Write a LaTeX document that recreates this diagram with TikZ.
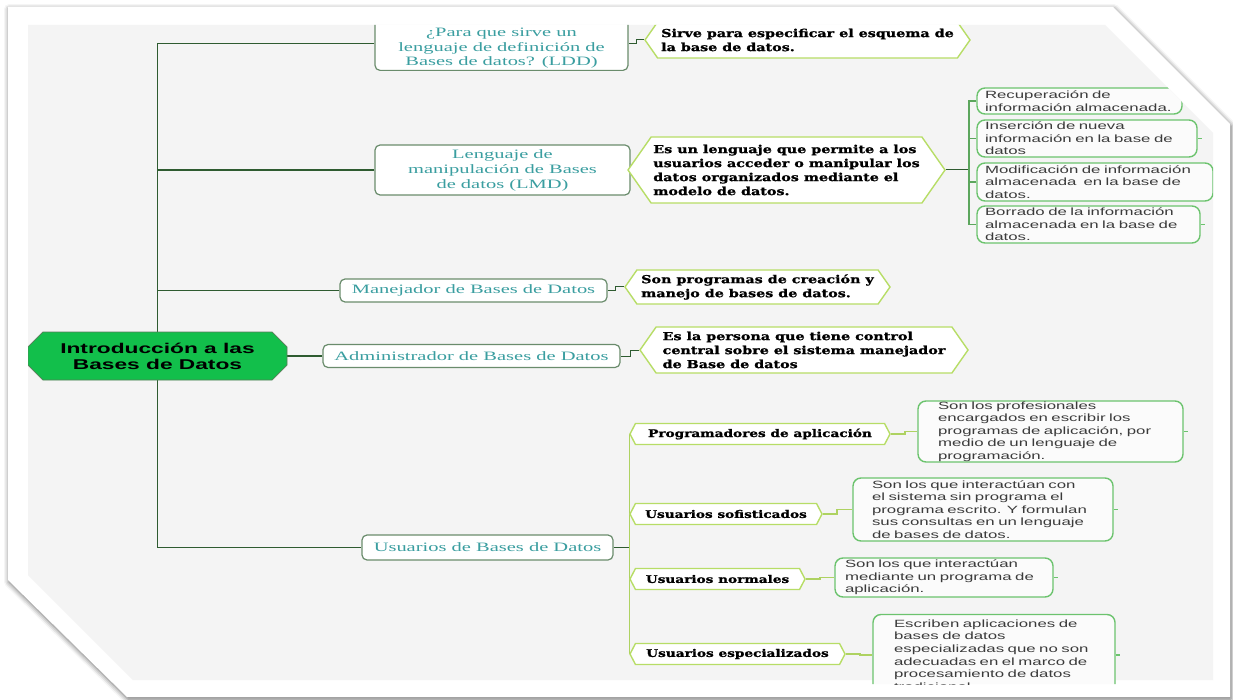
\documentclass[tikz,border=0pt]{standalone}
\usepackage{fontspec}
\usetikzlibrary{shapes.misc,shapes.symbols,shadows.blur,backgrounds}
\newfontfamily\rootfont[FakeStretch=1.6]{Liberation Sans}
\newfontfamily\topicfont[FakeStretch=1.6]{Liberation Serif}
\newfontfamily\notefont[FakeStretch=1.3,BoldFeatures={FakeBold=1.2}]{DejaVu Serif}
\newfontfamily\leaffont[FakeStretch=1.6]{Liberation Sans}
\definecolor{trunk}{HTML}{2E5B30}
\definecolor{rootfill}{HTML}{12BF4B}
\definecolor{topictext}{HTML}{3A9EA0}
\definecolor{topicborder}{HTML}{6A8C6C}
\definecolor{lime}{HTML}{B7DD66}
\definecolor{leafgreen}{HTML}{6CC36E}
\definecolor{leaftext}{HTML}{3B3B3B}
\definecolor{panel}{HTML}{F4F4F4}
\begin{document}
\begin{tikzpicture}[x=1pt,y=-1pt,
  root/.style={chamfered rectangle, chamfered rectangle xsep=12pt, draw=trunk!80, fill=rootfill,
    line width=0.8pt, inner sep=0pt, align=center,
    font=\rootfont\bfseries\fontsize{14.2}{16}\selectfont},
  topic/.style={rectangle, rounded corners=5pt, draw=topicborder, fill=white, line width=1.2pt,
    inner sep=0pt, text=topictext, align=center,
    font=\topicfont\fontsize{12.8}{15}\selectfont},
  note/.style={signal, signal to=east and west, signal pointer angle=110, draw=lime, fill=white,
    line width=1.4pt, inner sep=0pt, align=left,
    font=\notefont\bfseries\fontsize{11}{14}\selectfont},
  role/.style={note, signal pointer angle=125, font=\notefont\bfseries\fontsize{10.5}{12}\selectfont},
  leaf/.style={rectangle, rounded corners=8pt, draw=leafgreen, fill=white!60!panel, line width=1.4pt,
    inner ysep=0pt, text=leaftext, align=left,
    font=\leaffont\fontsize{10.5}{12.6}\selectfont},
  link/.style={draw=trunk, line width=1.3pt},
  limelink/.style={draw=lime!95!black, line width=1.4pt},
  bracket/.style={draw=leafgreen!85!black, line width=1.3pt},
  stub/.style={draw=leafgreen, line width=1.2pt}
]
\useasboundingbox (0,0) rectangle (1233,700);

% sheet and panel, at the very back
\begin{scope}[on background layer]
\fill[white, blur shadow={shadow xshift=1pt, shadow yshift=-2pt, shadow blur radius=5pt, shadow opacity=60}]
  (8,7) -- (1113,7) -- (1230,124) -- (1230,697) -- (127,697) -- (8,580) -- cycle;
\fill[panel] (28,25) -- (1105,25) -- (1213,133) -- (1213,680) -- (133,680) -- (28,575) -- cycle;
\end{scope}

\begin{scope}
\clip (28,25) -- (1105,25) -- (1213,133) -- (1213,684) -- (137,684) -- (28,575) -- cycle;

% central topic
\node[root, minimum width=259pt, minimum height=48pt] (root) at (157.5,356) {Introducción a las\\Bases de Datos};

% main topics (the first one runs past the top edge of the panel)
\node[topic, minimum width=253pt, inner ysep=2pt, anchor=south, font=\topicfont\fontsize{12.8}{14.5}\selectfont] (ldd) at (501.5,71) {\rule{0pt}{18pt}¿Para que sirve un\\lenguaje de definición de\\Bases de datos? (LDD)};
\node[topic, minimum width=255pt, minimum height=50pt] (lmd) at (502.5,170) {Lenguaje de\\manipulación de Bases\\de datos (LMD)};
\node[topic, minimum width=267pt, minimum height=23pt] (mgr) at (473.5,290.5) {Manejador de Bases de Datos};
\node[topic, minimum width=297pt, minimum height=23pt] (adm) at (471.5,356) {Administrador de Bases de Datos};
\node[topic, minimum width=251pt, minimum height=25pt] (usr) at (487.5,547.5) {Usuarios de Bases de Datos};

% definitions
\node[note, minimum width=325pt, minimum height=36pt] (h1) at (807.5,40) {Sirve para especificar el esquema de\\la base de datos.};
\node[note, minimum width=317pt, minimum height=66pt] (h2) at (786.5,170) {Es un lenguaje que permite a los\\usuarios acceder o manipular los\\datos organizados mediante el\\modelo de datos.};
\node[note, minimum width=265pt, minimum height=34pt] (h3) at (757.5,287) {Son programas de creación y\\manejo de bases de datos.};
\node[note, minimum width=328pt, minimum height=46pt] (h4) at (804,350) {Es la persona que tiene control\\central sobre el sistema manejador\\de Base de datos};

% operations of the manipulation language
\node[leaf, minimum width=205pt, minimum height=26pt, text width=189pt, inner xsep=8pt] (d1) at (1079.5,101) {Recuperación de\\información almacenada.};
\node[leaf, minimum width=220pt, minimum height=37pt, text width=204pt, inner xsep=8pt] (d2) at (1087,138.5) {Inserción de nueva\\información en la base de\\datos};
\node[leaf, minimum width=236pt, minimum height=38pt, text width=220pt, inner xsep=8pt] (d3) at (1095,182) {Modificación de información\\almacenada\ \ en la base de\\datos.};
\node[leaf, minimum width=223pt, minimum height=37pt, text width=207pt, inner xsep=8pt] (d4) at (1088.5,224.5) {Borrado de la información\\almacenada en la base de\\datos.};

% kinds of users
\node[role, minimum width=260pt, minimum height=21pt] (u1) at (760,434) {Programadores de aplicación};
\node[role, minimum width=192pt, minimum height=21pt] (u2) at (726,514) {Usuarios sofisticados};
\node[role, minimum width=175pt, minimum height=21pt] (u3) at (717.5,579) {Usuarios normales};
\node[role, minimum width=215pt, minimum height=21pt] (u4) at (737.5,654) {Usuarios especializados};

\node[leaf, minimum width=265pt, minimum height=61pt, text width=225pt, inner xsep=20pt] (e1) at (1050.5,431.5) {Son los profesionales\\encargados en escribir los\\programas de aplicación, por\\medio de un lenguaje de\\programación.};
\node[leaf, minimum width=260pt, minimum height=63pt, text width=222pt, inner xsep=19pt] (e2) at (983,509.5) {Son los que interactúan con\\el sistema sin programa el\\programa escrito. Y formulan\\sus consultas en un lenguaje\\de bases de datos.};
\node[leaf, minimum width=218pt, minimum height=39pt, text width=198pt, inner xsep=10pt] (e3) at (944,577.5) {Son los que interactúan\\mediante un programa de\\aplicación.};
\node[leaf, minimum width=242pt, minimum height=81pt, text width=200pt, inner xsep=21pt] (e4) at (994,655) {Escriben aplicaciones de\\bases de datos\\especializadas que no son\\adecuadas en el marco de\\procesamiento de datos\\tradicional.};
\end{scope}

% connectors, behind the nodes and above the panel
\begin{scope}[on background layer]
\clip (28,25) -- (1105,25) -- (1213,133) -- (1213,680) -- (133,680) -- (28,575) -- cycle;
\draw[link] (ldd.west) -| (root.north);
\draw[link] (root.south) |- (usr.west);
\draw[link] (lmd.west) -- (lmd.west -| root.north);
\draw[link] (mgr.west) -- (mgr.west -| root.north);
\draw[link] (root.east) -- (adm.west);

\draw[link, line width=1pt] (ldd.east) -- ++(8,0) |- (h1.west);
\draw[link, line width=1pt] (lmd.east) -- (h2.west);
\draw[link, line width=1pt] (mgr.east) -- ++(8,0) |- (h3.west);
\draw[link, line width=1pt] (adm.east) -- ++(10,0) |- (h4.west);

\draw[link, line width=1pt] (h2.east) -- ++(23,0) coordinate (brk);
\draw[bracket] (d1.west) -| (brk) |- (d4.west);
\draw[bracket] (d2.west) -- (d2.west -| brk);
\draw[bracket] (d3.west) -- (d3.west -| brk);

\draw[link, line width=1pt] (usr.east) -- (usr.east -| u1.west);
\draw[limelink] (u1.west) -- (u4.west);
\draw[limelink] (u1.east) -- ++(14,0) |- (e1.west);
\draw[limelink] (u2.east) -- ++(14,0) |- (e2.west);
\draw[limelink] (u3.east) -- ++(14,0) |- (e3.west);
\draw[limelink] (u4.east) -- ++(14,0) |- (e4.west);

\foreach \n in {d2,d4,e1,e2,e3,e4} \draw[stub] (\n.east) -- ++(4,0);
\end{scope}
\end{tikzpicture}
\end{document}
